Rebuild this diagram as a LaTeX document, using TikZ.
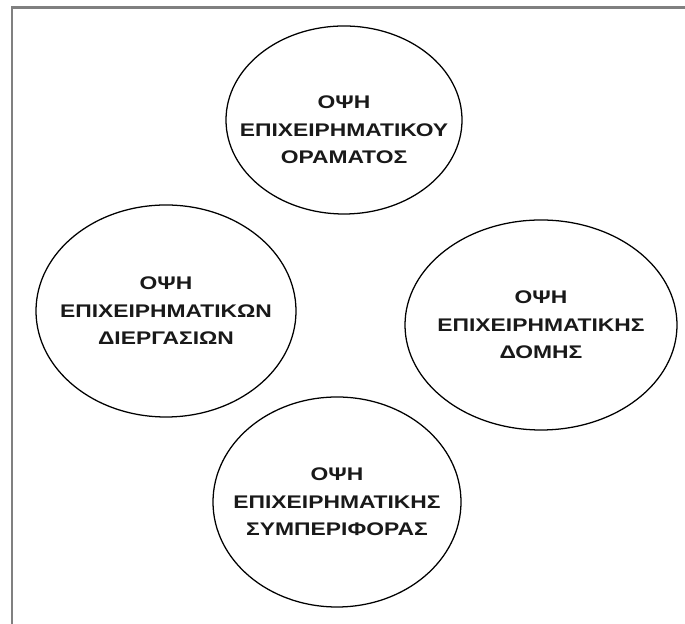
\documentclass[tikz,border=0pt]{standalone}
\usepackage{fontspec}
\setmainfont{Liberation Sans}[FakeStretch=1.25]
\usepackage{tikz}
\usetikzlibrary{shapes.geometric, positioning}
\definecolor{framegray}{RGB}{128,128,128}

\begin{document}
\begin{tikzpicture}[
    view/.style={ellipse, draw, line width=0.9pt, inner sep=0pt},
    viewtext/.style={align=center, font=\fontsize{13}{19.5}\selectfont\bfseries, text=black!90},
    frame/.style={line width=2.1pt, draw=framegray}
]
\useasboundingbox (0,0) rectangle (17.125,15.6);
\fill[white] (0,0) rectangle (17.125,15.6);

% outer frame (top and left edge only)
\draw[frame] (0.3,0) -- (0.3,15.4125) -- (17.125,15.4125);

% the four views
\node[view, minimum width=5.9cm, minimum height=4.7cm] (vision) at (8.6,12.6) {};
\node[view, minimum width=6.5cm, minimum height=5.3cm] (process) at (4.15,7.825) {};
\node[view, minimum width=6.8cm, minimum height=5.25cm] (structure) at (13.525,7.475) {};
\node[view, minimum width=6.2cm, minimum height=5.25cm] (behaviour) at (8.425,3.05) {};

\node[viewtext, yshift=-0.25cm] (vision-text) at (vision.center) {ΟΨΗ\\ΕΠΙΧΕΙΡΗΜΑΤΙΚΟΥ\\ΟΡΑΜΑΤΟΣ};
\node[viewtext] (process-text) at (process.center) {ΟΨΗ\\ΕΠΙΧΕΙΡΗΜΑΤΙΚΩΝ\\ΔΙΕΡΓΑΣΙΩΝ};
\node[viewtext] (structure-text) at (structure.center) {ΟΨΗ\\ΕΠΙΧΕΙΡΗΜΑΤΙΚΗΣ\\ΔΟΜΗΣ};
\node[viewtext] (behaviour-text) at (behaviour.center) {ΟΨΗ\\ΕΠΙΧΕΙΡΗΜΑΤΙΚΗΣ\\ΣΥΜΠΕΡΙΦΟΡΑΣ};

\end{tikzpicture}
\end{document}
